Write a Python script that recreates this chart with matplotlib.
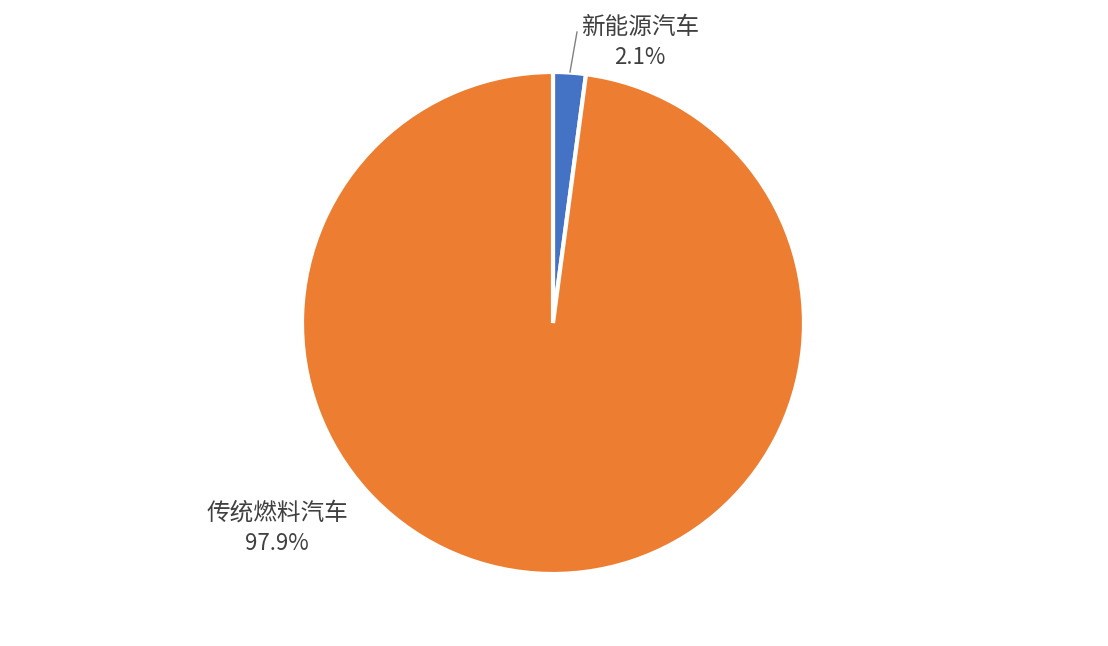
import matplotlib.pyplot as plt

plt.rcParams["font.family"] = ["Noto Sans CJK SC", "DejaVu Sans"]

categories = ["新能源汽车", "传统燃料汽车"]
shares = [2.1, 97.9]
colors = ["#4472C4", "#ED7D31"]

fig = plt.figure(figsize=(11.08, 6.46), dpi=100)
ax = fig.add_axes([0, 0, 1, 1])

# y axis runs top-down here, so counterclock=True draws clockwise on screen
ax.pie(
    shares,
    colors=colors,
    startangle=-90,
    counterclock=True,
    center=(553, 323),
    radius=251,
    wedgeprops={"edgecolor": "white", "linewidth": 3},
    frame=True,
)
ax.set_xlim(0, 1108)
ax.set_ylim(646, 0)
ax.set_aspect("equal")
ax.axis("off")

txt = "#404040"
# label for small slice with leader line
ax.plot([570, 577], [72, 32], color="#808080", lw=1)
ax.text(640, 27, categories[0], ha="center", va="center", fontsize=17,
        color=txt, fontweight="light")
ax.text(640, 58, f"{shares[0]}%", ha="center", va="center", fontsize=16,
        color=txt, fontweight="light")

ax.text(277, 513, categories[1], ha="center", va="center", fontsize=17,
        color=txt, fontweight="light")
ax.text(277, 544, f"{shares[1]}%", ha="center", va="center", fontsize=16,
        color=txt, fontweight="light")

fig.savefig("out.png", dpi=100)
